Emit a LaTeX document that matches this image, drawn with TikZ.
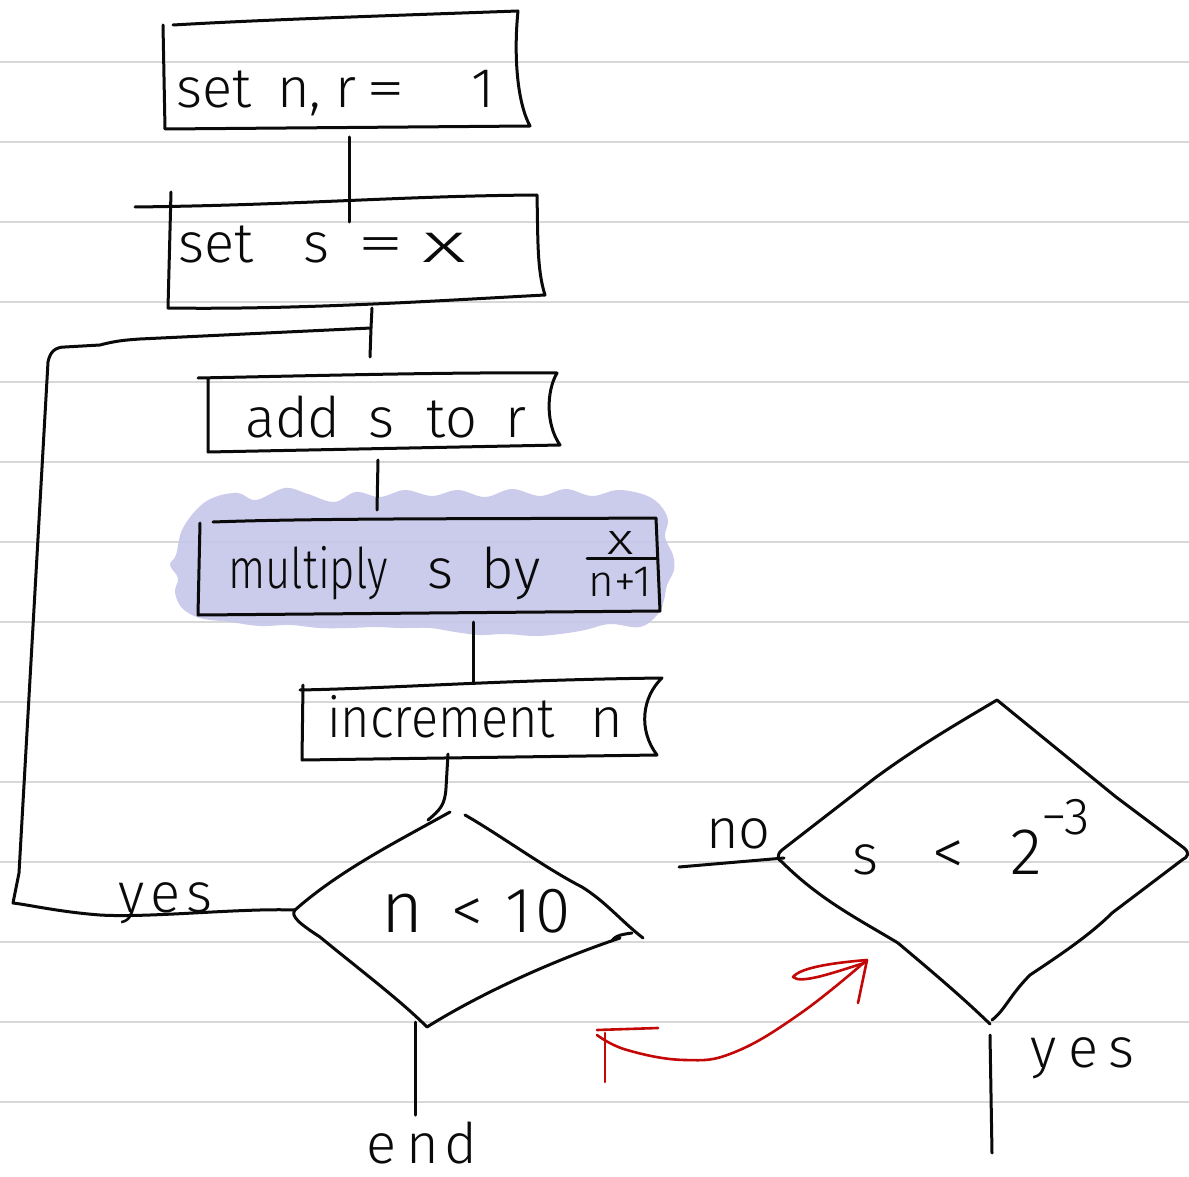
\documentclass[tikz,border=0pt]{standalone}
\usepackage{fontspec}
\setmainfont{Fira Sans}[UprightFont={* Light}]
\definecolor{paper}{RGB}{216,216,216}
\definecolor{hilite}{RGB}{198,198,234}
\definecolor{inkred}{RGB}{196,8,8}
\definecolor{inkblack}{RGB}{10,10,10}
\begin{document}
\begin{tikzpicture}[x=1pt,y=-1pt,
  ink/.style={line width=3pt, line cap=round, line join=round, draw=inkblack},
  redink/.style={line width=2.6pt, line cap=round, line join=round, draw=inkred},
  paperline/.style={line width=2.6pt, draw=paper},
  txt/.style={inner sep=0pt, anchor=base west, text=inkblack, font=\fontsize{56}{60}\selectfont},
  smalltxt/.style={inner sep=0pt, anchor=center, text=inkblack, font=\fontsize{44}{48}\selectfont}]
\useasboundingbox (0,0) rectangle (1189,1177);
\fill[white] (0,0) rectangle (1189,1177);
% notebook lines
\foreach \yy in {62,142,...,1102} \draw[paperline] (0,\yy) -- (1189,\yy);
% highlight blob
\fill[hilite, fill opacity=0.9] plot[smooth cycle, tension=0.6] coordinates {
  (176,555) (182,530) (198,508) (215,497) (238,493) (256,500) (285,488) (308,494)
  (334,502) (356,492) (380,497) (405,490) (432,496) (458,490) (485,497) (512,489)
  (540,496) (566,489) (592,496) (618,490) (645,495) (660,505) (668,520)
  (665,537) (673,555) (674,570) (667,585) (664,600) (658,614)
  (640,627) (610,624) (585,630) (560,634) (535,636) (505,634) (480,635) (455,632)
  (430,628) (400,628) (375,627) (350,628) (320,628) (290,625) (260,626) (230,622)
  (200,618) (182,608) (175,592) (178,578) (170,565)};
% box 1
\draw[ink] (173,25) .. controls (260,20) and (350,17) .. (518,11)
  .. controls (514,50) and (516,100) .. (530,126) -- (165,129) -- (163,25);
\node[txt] (t1) at (176,108) {set\hspace{26pt}n,\hspace{14pt}r\hspace{10pt}\scalebox{1.4}[1]{=}\hspace{66pt}1};
% connector 1-2
\coordinate (c12a) at (349,137);
\coordinate (c12b) at (349,222);
\draw[ink] (c12a) -- (c12b);
% box 2
\draw[ink] (135,207) .. controls (300,205) and (400,196) .. (537,195)
  .. controls (538,240) and (537,270) .. (545,295)
  .. controls (450,300) and (300,310) .. (168,308) -- (171,192);
\node[txt] (t2) at (178,262) {set\hspace{50pt}s\hspace{28pt}\scalebox{1.7}[1]{=}\hspace{18pt}\scalebox{1.7}[1]{x}};
% connector 2-3 and loop junction
\coordinate (c23a) at (372,308);
\coordinate (c23m) at (371,328);
\coordinate (c23b) at (370,357);
\draw[ink] (c23a) -- (c23m) -- (c23b);
% box 3
\draw[ink] (198,378) .. controls (300,376) and (450,372) .. (557,373)
  .. controls (546,392) and (546,425) .. (560,445) -- (208,452) -- (208,378);
\node[txt] (t3) at (245,437) {add\hspace{28pt}s\hspace{32pt}to\hspace{28pt}r};
% connector 3-4
\coordinate (c34a) at (378,460);
\coordinate (c34b) at (377,510);
\draw[ink] (c34a) -- (c34b);
% box 4
\draw[ink] (213,522) .. controls (320,518) and (500,519) .. (656,518)
  -- (660,611) -- (198,615) -- (200,523);
\node[txt] (t4) at (228,588) {\scalebox{0.78}[1]{multiply}\hspace{40pt}s\hspace{28pt}by};
\node[smalltxt] (t4n) at (621,543) {\scalebox{1.3}[1]{x}};
\node[smalltxt] (t4d) at (620,582) {n+1};
\draw[ink] (587,558) -- (657,558);
% connector 4-5
\coordinate (c45a) at (473,622);
\coordinate (c45b) at (473,682);
\draw[ink] (c45a) -- (c45b);
% box 5
\draw[ink] (300,690) .. controls (400,688) and (500,680) .. (662,678)
  .. controls (642,697) and (638,730) .. (657,755) -- (302,760) -- (303,685);
\node[txt] (t5) at (327,737) {\scalebox{0.9}[1]{increment}\hspace{36pt}n};
% connector 5 - diamond 1
\coordinate (c5a) at (448,754);
\coordinate (c5b) at (428,820);
\draw[ink] (c5a) -- (446,788) .. controls (445,805) and (440,810) .. (c5b);
% diamond 1
\coordinate (d1l) at (295,910);
\coordinate (d1b) at (427,1027);
\draw[ink] (450,812) .. controls (400,840) and (340,870) .. (d1l)
  .. controls (290,916) and (300,924) .. (320,937)
  .. controls (360,970) and (400,1000) .. (d1b)
  .. controls (470,1000) and (540,965) .. (620,938);
\draw[ink] (465,815) .. controls (500,835) and (545,868) .. (582,887)
  .. controls (606,902) and (620,920) .. (643,938);
\draw[ink] (612,941) .. controls (615,935) and (625,934) .. (632,933);
\node[txt] (td1) at (381,932) {\fontsize{72}{72}\selectfont n\hspace{28pt}\fontsize{64}{64}\selectfont <\hspace{22pt}1\hspace{4pt}0};
% yes loop back
\coordinate (lp1) at (13,903);
\coordinate (lp2) at (48,362);
\draw[ink] (d1l) .. controls (240,908) and (150,918) .. (100,915)
  .. controls (60,912) and (30,905) .. (lp1) -- (19,873) -- (lp2)
  .. controls (50,352) and (55,347) .. (65,347) -- (100,345)
  .. controls (115,341) and (125,340) .. (140,339) -- (c23m);
\node[txt] (yes1) at (118,912) {y\hspace{6pt}e\hspace{6pt}s};
% end
\coordinate (e1) at (415,1115);
\draw[ink] (415,1022) -- (e1);
\node[txt] (end) at (366,1163) {e\hspace{10pt}n\hspace{6pt}d};
% diamond 2
\coordinate (d2l) at (784,858);
\coordinate (d2b) at (990,1024);
\draw[ink] (997,700) .. controls (960,722) and (920,745) .. (875,778) -- (782,850)
  .. controls (776,855) and (778,860) .. (782,862)
  .. controls (820,900) and (860,920) .. (898,943)
  .. controls (930,970) and (960,995) .. (d2b);
\draw[ink] (997,700) -- (1116,797) -- (1184,848)
  .. controls (1190,853) and (1188,857) .. (1182,860) -- (1112,913)
  .. controls (1090,935) and (1060,955) .. (1030,975)
  .. controls (1010,995) and (1005,1010) .. (992,1020);
\node[txt] (td2) at (852,874) {s\hspace{54pt}{\fontsize{64}{64}\selectfont <}\hspace{46pt}{\fontsize{66}{66}\selectfont 2}\raisebox{40pt}{\fontsize{52}{52}\selectfont −3}};
% no branch
\coordinate (no1) at (679,867);
\draw[ink] (no1) -- (d2l);
\node[txt] (nolbl) at (706,848) {no};
% yes branch of diamond 2
\coordinate (y2a) at (990,1035);
\coordinate (y2b) at (992,1153);
\draw[ink] (y2a) -- (y2b);
\node[txt] (yes2) at (1030,1067) {y\hspace{12pt}e\hspace{10pt}s};
% red arrow
\draw[redink] (597,1030) -- (658,1028);
\draw[redink] (605,1033) -- (605,1082);
\coordinate (ra) at (597,1035);
\coordinate (rb) at (867,960);
\draw[redink] plot[smooth, tension=0.7] coordinates {(ra) (627,1050) (685,1060) (735,1052) (801,1013) (rb)};
\draw[redink] (rb) .. controls (830,963) and (800,968) .. (793,977)
  .. controls (800,984) and (830,974) .. (864,963);
\draw[redink] (rb) -- (858,1003);
\end{tikzpicture}
\end{document}
